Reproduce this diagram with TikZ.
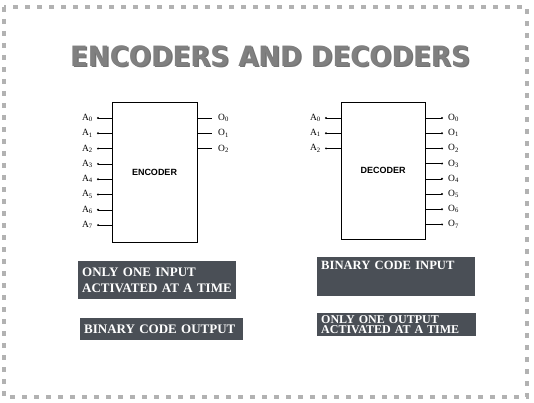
\documentclass[tikz,border=0pt]{standalone}
\usepackage{fontspec}
\setmainfont{Liberation Serif}
\newfontfamily\headfont{DejaVu Sans}
\newfontfamily\chipfont{Liberation Sans}
\usepackage{tikz}
\usetikzlibrary{positioning}

\definecolor{slate}{RGB}{74,79,86}
\definecolor{headgray}{RGB}{128,128,128}

\begin{document}
\begin{tikzpicture}[x=1pt, y=-1pt,
  chip/.style={draw, thin, inner sep=0pt, font=\fontsize{9}{10}\chipfont\bfseries},
  pin/.style={thin},
  dot/.style={circle, fill, inner sep=0pt, minimum size=2.2pt},
  pinlbl/.style={inner sep=1pt, font=\fontsize{9.5}{10}\selectfont},
  note/.style={fill=slate, text=white, anchor=north west, align=left, inner xsep=4pt, inner ysep=3pt,
    font=\fontsize{13}{15.5}\selectfont\bfseries},
  frame/.style={draw=gray!60, line width=3.5pt, dash pattern=on 5pt off 7pt}
]
\useasboundingbox (0,0) rectangle (534,403);
\draw[frame] (4,7) rectangle (527,397);

% title with its shadow
\node[text=black!55] (titleshadow) at (271.5,57.5) {\scalebox{0.93}[1]{\fontsize{28}{30}\headfont\bfseries ENCODERS AND DECODERS}};
\node[text=headgray] (title) at (270,56) {\scalebox{0.93}[1]{\fontsize{28}{30}\headfont\bfseries ENCODERS AND DECODERS}};

% the two blocks
\node[chip, minimum width=85pt, minimum height=140pt] (enc) at (154.5,172) {ENCODER};
\node[chip, minimum width=84pt, minimum height=137pt] (dec) at (383,170.5) {DECODER};

% encoder pins
\foreach \i in {0,...,7}{
  \coordinate (ein\i) at (98,118+15.3*\i);
  \draw[pin] (ein\i) -- (ein\i -| enc.west);
  \node[dot] (eindot\i) at (ein\i) {};
  \node[pinlbl, left=4pt of ein\i] (einlbl\i) {A\textsubscript{\i}};
}
\foreach \i in {0,1,2}{
  \coordinate (eout\i) at (212,118+15.3*\i);
  \draw[pin] (eout\i -| enc.east) -- (eout\i);
  \node[pinlbl, right=5pt of eout\i] (eoutlbl\i) {O\textsubscript{\i}};
}

% decoder pins
\foreach \i in {0,1,2}{
  \coordinate (din\i) at (326,118+15.2*\i);
  \draw[pin] (din\i) -- (din\i -| dec.west);
  \node[dot] (dindot\i) at (din\i) {};
  \node[pinlbl, left=4pt of din\i] (dinlbl\i) {A\textsubscript{\i}};
}
\foreach \i in {0,...,7}{
  \coordinate (dout\i) at (442,118+15.2*\i);
  \draw[pin] (dout\i -| dec.east) -- (dout\i);
  \node[dot] (doutdot\i) at (dout\i) {};
  \node[pinlbl, right=5pt of dout\i] (doutlbl\i) {O\textsubscript{\i}};
}

% notes under the blocks
\node[note, text width=150pt, minimum height=38pt] (encnote1) at (78,261) {ONLY ONE INPUT\\ACTIVATED AT A TIME};
\node[note, text width=155pt, minimum height=22pt] (encnote2) at (80,318) {BINARY CODE OUTPUT};
\node[note, text width=150pt, text height=9pt, text depth=24pt, font=\fontsize{12.6}{15}\selectfont\bfseries] (decnote1) at (317,257) {BINARY CODE INPUT};
\node[note, text width=151pt, minimum height=23pt, inner ysep=2pt, font=\fontsize{12}{10.5}\selectfont\bfseries] (decnote2) at (317,313) {ONLY ONE OUTPUT\\ACTIVATED AT A TIME};
\end{tikzpicture}
\end{document}
